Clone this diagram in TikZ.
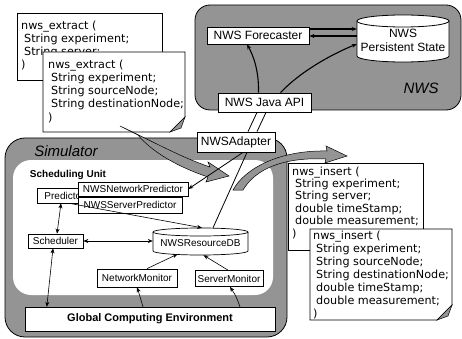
\documentclass[tikz,border=0pt]{standalone}
\usepackage{fontspec}
\setmainfont{Liberation Sans}
\newfontfamily\codefont{DejaVu Sans}
\usetikzlibrary{arrows.meta,calc}
\begin{document}
\begin{tikzpicture}[x=1pt,y=-1pt,
  hatch/.style={fill=black!42},
  box/.style={draw=black, line width=0.7pt, fill=white, inner sep=0pt, font=\fontsize{10}{12}\selectfont},
  bigbox/.style={draw=black, line width=0.8pt, fill=white, inner sep=0pt, font=\fontsize{12}{14}\selectfont},
  code/.style={anchor=north west, inner sep=0pt, align=left},
  codebox/.style={fill=white, draw=black, line width=0.7pt},
  arr/.style={-{Stealth[length=5pt,width=4pt]}, line width=0.6pt},
  darr/.style={{Stealth[length=5pt,width=4pt]}-{Stealth[length=5pt,width=4pt]}, line width=0.6pt},
  region/.style={font=\itshape\fontsize{15}{15}\selectfont},
]
\useasboundingbox (0,0) rectangle (462,339);

% ---------- NWS region ----------
\draw[hatch, line width=0.8pt, rounded corners=15pt] (195,5) rectangle (461,110);
\node[region] (nwslabel) at (421,88) {NWS};

% ---------- Simulator region ----------
\draw[hatch, line width=0.8pt, rounded corners=20pt] (5,138) rectangle (287,337);
\fill[white, rounded corners=18pt] (13,160) rectangle (273,295);
\node[region] (simlabel) at (66,151) {Simulator};
\node[font=\bfseries\fontsize{10}{12}\selectfont] (sulabel) at (68,175) {Scheduling Unit};
\node[draw, line width=0.4pt, fill=white, inner sep=0pt, minimum width=250pt, minimum height=24pt,
      font=\bfseries\fontsize{11}{13}\selectfont] (gce) at (150,319) {Global Computing Environment};

% ---------- code boxes ----------
\draw[codebox] (17,13) rectangle (162,80);
\node[code, font=\codefont\fontsize{11.2}{13.3}\selectfont] (ex1) at (21,20.4)
  {nws\_extract (\\\hspace*{3pt}String experiment;\\\hspace*{3pt}String server;\\)};
\draw[codebox] (43,52) -- (185,52) -- (185,117) -- (170,132) -- (43,132) -- cycle;
\filldraw[hatch, draw=black, line width=0.5pt] (185,117) -- (181,128) -- (170,132) -- cycle;
\node[code, font=\codefont\fontsize{11.2}{13.25}\selectfont] (ex2) at (48,59.4)
  {nws\_extract (\\\hspace*{3pt}String experiment;\\\hspace*{3pt}String sourceNode;\\\hspace*{3pt}String destinationNode;\\)};

\draw[codebox] (288,163) rectangle (423,250);
\node[code, font=\codefont\fontsize{11.2}{12.4}\selectfont] (ins1) at (292,166.4)
  {nws\_insert (\\\hspace*{3pt}String experiment;\\\hspace*{3pt}String server;\\\hspace*{3pt}double timeStamp;\\\hspace*{3pt}double measurement;\\)};
\draw[codebox] (310,229) -- (452,229) -- (452,305) -- (437,320) -- (310,320) -- cycle;
\filldraw[hatch, draw=black, line width=0.5pt] (452,305) -- (448,316) -- (437,320) -- cycle;
\node[code, font=\codefont\fontsize{11.2}{13}\selectfont] (ins2) at (313,230.4)
  {nws\_insert (\\\hspace*{3pt}String experiment;\\\hspace*{3pt}String sourceNode;\\\hspace*{3pt}String destinationNode;\\\hspace*{3pt}double timeStamp;\\\hspace*{3pt}double measurement;\\)};

% ---------- broad hatched arrows ----------
\filldraw[hatch, draw=black, line width=0.5pt]
  (120,126) .. controls (150,140) and (180,157) .. (210,167)
  -- (208,162) -- (229,176) -- (206,182) -- (208,177)
  .. controls (178,167) and (152,152) .. (138,135) -- cycle;
\filldraw[hatch, draw=black, line width=0.5pt]
  (233,190) .. controls (245,168) and (280,150) .. (327,151)
  -- (326,146) -- (347,156) -- (325,163) -- (326,159)
  .. controls (285,157) and (256,168) .. (243,190) -- cycle;

% ---------- NWS nodes ----------
\node[bigbox, minimum width=102pt, minimum height=17pt] (fore) at (258,35.5) {NWS Forecaster};
\node[bigbox, minimum width=93pt, minimum height=19pt] (api) at (264.5,102.5) {NWS Java API};
\node[bigbox, minimum width=78pt, minimum height=20pt] (adapter) at (236,142) {NWSAdapter};

% persistent state cylinder
\fill[white] (357,21) -- (357,56) .. controls (357,59.3) and (377.6,62) .. (403,62)
  .. controls (428.4,62) and (449,59.3) .. (449,56) -- (449,21) -- cycle;
\draw[line width=0.8pt] (357,21) -- (357,56) .. controls (357,59.3) and (377.6,62) .. (403,62)
  .. controls (428.4,62) and (449,59.3) .. (449,56) -- (449,21);
\filldraw[fill=white, line width=0.8pt] (403,21) ellipse [x radius=46pt, y radius=6pt];
\node[inner sep=0pt, minimum width=92pt, minimum height=44pt, align=center,
      font=\fontsize{12}{14}\selectfont] (pstate) at (403,40) {NWS\\Persistent State};

% ---------- Scheduling unit nodes ----------
\node[box, minimum width=55pt, minimum height=15pt] (pred) at (64.5,195.5) {Predictor};
\node[box, minimum width=110pt, minimum height=14pt] (nnp) at (133,189) {NWSNetworkPredictor};
\node[box, minimum width=104pt, minimum height=16pt] (nsp) at (130,205) {NWSServerPredictor};
\node[box, minimum width=55pt, minimum height=14pt] (sched) at (55.5,241) {Scheduler};

% resource DB cylinder
\fill[white] (153,232) -- (153,251) .. controls (153,253.2) and (174.2,255) .. (200.5,255)
  .. controls (226.8,255) and (248,253.2) .. (248,251) -- (248,232) -- cycle;
\draw[line width=0.7pt] (153,232) -- (153,251) .. controls (153,253.2) and (174.2,255) .. (200.5,255)
  .. controls (226.8,255) and (248,253.2) .. (248,251) -- (248,232);
\filldraw[fill=white, line width=0.7pt] (200.5,232) ellipse [x radius=47.5pt, y radius=4pt];
\node[inner sep=0pt, minimum width=95pt, minimum height=24pt,
      font=\fontsize{10}{12}\selectfont] (db) at (200.5,243) {NWSResourceDB};

\node[box, minimum width=80pt, minimum height=18pt] (nmon) at (137,278) {NetworkMonitor};
\node[box, minimum width=68pt, minimum height=16pt] (smon) at (229,278.5) {ServerMonitor};

% ---------- connectors ----------
\draw[arr, line width=1.1pt] ($(fore.east)+(0,-6.5)$) -- ($(pstate.west)+(0,-11)$);
\draw[arr, line width=1.1pt] ($(pstate.west)+(0,-4)$) -- ($(fore.east)+(0,0.5)$);
\draw[arr, line width=1.1pt] ($(api.north)+(-6,0)$) .. controls (259,70) and (253,55) .. ($(fore.south)+(-11,0)$);
\draw[arr, line width=1.1pt] ($(api.north)+(16,0)$) .. controls (300,72) and (330,55) .. ($(pstate.west)+(0,4)$);

\draw[line width=0.8pt] ($(api.south)+(-7.5,0)$) -- ($(adapter.north)+(12,0)$);
\draw[line width=0.8pt] ($(api.south)+(1.5,0)$) -- ($(adapter.north)+(21,0)$);
\draw[line width=0.8pt] ($(adapter.south)+(11,0)$) -- ($(db.north)+(12.5,-3)$);
\draw[arr, line width=0.8pt] ($(adapter.south)+(7,0)$) -- (nnp.east);

\draw[darr] ($(pred.south)+(-3.5,0)$) -- ($(sched.north)+(1.5,0)$);
\draw[darr] ($(sched.south)+(-2.5,0)$) -- ($(gce.north west)+(22,0)$);
\draw[darr] (sched.east) -- (sched.east -| db.west);
\draw[arr] ($(pred.south)+(5,0)$) -- ($(db.north)+(1.5,-3)$);
\draw[arr] ($(nmon.north)+(10,0)$) -- ($(db.south)+(-23,-1)$);
\draw[arr] ($(smon.north)+(-1,0)$) -- ($(db.south)+(3,0)$);
\draw[arr] ($(gce.north)+(-7,0)$) .. controls (141,298) .. (nmon.south);
\draw[arr] ($(gce.north)+(90,0)$) .. controls (236,296) .. ($(smon.south)+(1,0)$);
\end{tikzpicture}
\end{document}
